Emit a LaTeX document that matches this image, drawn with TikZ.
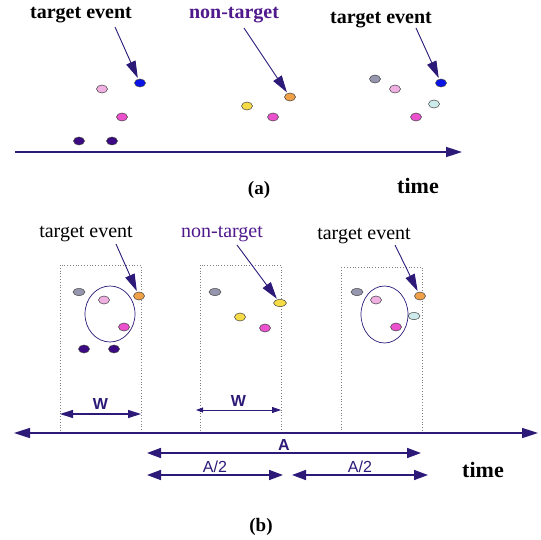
\documentclass[tikz,border=0pt]{standalone}
\usepackage{fontspec}
\setmainfont{Liberation Serif}
\setsansfont{Liberation Sans}
\usetikzlibrary{arrows.meta, positioning, shapes.geometric, calc}

\definecolor{navy}{RGB}{45,25,120}
\definecolor{ntpurple}{RGB}{80,25,140}
\definecolor{dotblue}{RGB}{10,20,230}
\definecolor{dotpink}{RGB}{240,175,225}
\definecolor{dotmag}{RGB}{235,80,205}
\definecolor{dotdark}{RGB}{60,10,130}
\definecolor{dotyel}{RGB}{245,220,70}
\definecolor{dotorg}{RGB}{240,160,70}
\definecolor{dotgrey}{RGB}{150,150,175}
\definecolor{dotcyan}{RGB}{205,235,235}

\tikzset{
  evdot/.style={ellipse, draw=black!75, line width=0.5pt, inner sep=0pt,
                minimum width=11pt, minimum height=8pt},
  pointer/.style={navy, line width=0.9pt,
                  -{Triangle[length=17pt,width=10pt]}, shorten >=1pt},
  timeline/.style={navy, line width=1.6pt},
  winbox/.style={gray, dotted, line width=0.8pt},
  headlbl/.style={font=\fontsize{20}{20}\selectfont\bfseries, inner sep=0pt},
  winlbl/.style={font=\fontsize{20}{20}\selectfont, inner sep=0pt},
  dimlbl/.style={font=\sffamily\fontsize{16}{16}\selectfont\bfseries, inner sep=0pt}
}

\begin{document}
\begin{tikzpicture}[x=1pt, y=-1pt]
  \useasboundingbox (0,0) rectangle (540,540);

  % (a) events on a time line
  \node[headlbl] (tgtA1) at (81,15) {target event};
  \node[headlbl, text=ntpurple] (ntA) at (234,15) {non-target};
  \node[headlbl] (tgtA2) at (381,20) {target event};

  \node[evdot, fill=dotblue] (a1) at (140,83) {};
  \node[evdot, fill=dotpink] (a2) at (102,89) {};
  \node[evdot, fill=dotmag] (a3) at (122,117) {};
  \node[evdot, fill=dotdark] (a4) at (79,141) {};
  \node[evdot, fill=dotdark] (a5) at (112,141) {};

  \node[evdot, fill=dotyel] (a6) at (247,106) {};
  \node[evdot, fill=dotmag] (a7) at (273,117) {};
  \node[evdot, fill=dotorg] (a8) at (290,97) {};

  \node[evdot, fill=dotgrey] (a9) at (375,79) {};
  \node[evdot, fill=dotpink] (a10) at (395,89) {};
  \node[evdot, fill=dotblue] (a11) at (441,83) {};
  \node[evdot, fill=dotcyan] (a12) at (434,104) {};
  \node[evdot, fill=dotmag] (a13) at (416,117) {};

  \coordinate (pA1) at (115,27);
  \coordinate (pA2) at (244,28);
  \coordinate (pA3) at (416,28);
  \draw[pointer] (pA1) -- (a1);
  \draw[pointer] (pA2) -- (a8);
  \draw[pointer] (pA3) -- (a11);

  \coordinate (axA0) at (15,152);
  \coordinate (axA1) at (462,152);
  \draw[timeline, -{Triangle[length=16pt,width=10pt]}] (axA0) -- (axA1);

  \node[font=\fontsize{22}{22}\selectfont\bfseries, inner sep=0pt]
    (timeA) at (418,186) {time};
  \node[font=\fontsize{19}{19}\selectfont\bfseries, inner sep=0pt]
    (capA) at (259,190) {(a)};

  % (b) windows of width W moved along the time line
  \node[winlbl] (tgtB1) at (86,234) {target event};
  \node[winlbl, text=ntpurple] (ntB) at (222,234) {non-target};
  \node[winlbl] (tgtB2) at (364,236) {target event};

  \draw[winbox] (60,265) rectangle (141,433);
  \draw[winbox] (200,265) rectangle (281,433);
  \draw[winbox] (341,267) rectangle (422,433);

  \node[evdot, fill=dotgrey, minimum width=12pt, minimum height=7pt] (b1) at (79,292) {};
  \node[evdot, fill=dotpink] (b2) at (104,300) {};
  \node[evdot, fill=dotorg] (b3) at (139,296) {};
  \node[evdot, fill=dotmag] (b4) at (124,327) {};
  \node[evdot, fill=dotdark] (b5) at (84,349) {};
  \node[evdot, fill=dotdark] (b6) at (114,349) {};
  \draw[navy, line width=0.7pt] (110,314) ellipse [x radius=25, y radius=28];

  \node[evdot, fill=dotgrey, minimum width=12pt, minimum height=7pt] (b7) at (215,292) {};
  \node[evdot, fill=dotyel] (b8) at (240,317) {};
  \node[evdot, fill=dotmag] (b9) at (265,328) {};
  \node[evdot, fill=dotyel, minimum width=13pt, minimum height=7pt] (b10) at (280,303) {};

  \node[evdot, fill=dotgrey, minimum width=12pt, minimum height=7pt] (b11) at (357,292) {};
  \node[evdot, fill=dotpink] (b12) at (376,300) {};
  \node[evdot, fill=dotorg] (b13) at (420,296) {};
  \node[evdot, fill=dotcyan, minimum width=12pt, minimum height=7pt] (b14) at (414,316) {};
  \node[evdot, fill=dotmag] (b15) at (396,327) {};
  \draw[navy, line width=0.7pt] (384.5,314.5) ellipse [x radius=23.5, y radius=28.5];

  \coordinate (pB1) at (116,244);
  \coordinate (pB2) at (237,245);
  \coordinate (pB3) at (395,245);
  \draw[pointer] (pB1) -- (b3);
  \draw[pointer] (pB2) -- (b10);
  \draw[pointer] (pB3) -- (b13);

  % widths and spacing
  \coordinate (w1l) at (60,414);
  \coordinate (w1r) at (141,414);
  \coordinate (w2l) at (196,410);
  \coordinate (w2r) at (281,410);
  \draw[timeline, line width=1.2pt,
        {Triangle[length=13pt,width=8pt]}-{Triangle[length=13pt,width=8pt]}]
    (w1l) -- node[dimlbl, above=4pt] (wlbl1) {W} (w1r);
  \draw[timeline, line width=0.8pt,
        {Triangle[length=7pt,width=5pt]}-{Triangle[length=9pt,width=6pt]}]
    (w2l) -- node[dimlbl, above=3pt] (wlbl2) {W} (w2r);

  \coordinate (axB0) at (14,433);
  \coordinate (axB1) at (538,433);
  \draw[timeline,
        {Triangle[length=16pt,width=10pt]}-{Triangle[length=16pt,width=10pt]}]
    (axB0) -- (axB1);

  \coordinate (Al) at (147,453);
  \coordinate (Ar) at (421,453);
  \coordinate (H1l) at (147,475);
  \coordinate (H1r) at (283,475);
  \coordinate (H2l) at (292,475);
  \coordinate (H2r) at (428,475);
  \draw[timeline,
        {Triangle[length=14pt,width=10pt]}-{Triangle[length=14pt,width=10pt]}]
    (Al) -- node[dimlbl, above=2pt] (albl) {A} (Ar);
  \draw[timeline,
        {Triangle[length=14pt,width=10pt]}-{Triangle[length=14pt,width=10pt]}]
    (H1l) -- node[dimlbl, font=\sffamily\fontsize{16}{16}\selectfont, above=2pt] (hlbl1) {A/2} (H1r);
  \draw[timeline,
        {Triangle[length=14pt,width=10pt]}-{Triangle[length=14pt,width=10pt]}]
    (H2l) -- node[dimlbl, font=\sffamily\fontsize{16}{16}\selectfont, above=2pt] (hlbl2) {A/2} (H2r);

  \node[font=\fontsize{22}{22}\selectfont\bfseries, inner sep=0pt]
    (timeB) at (483,470) {time};
  \node[font=\fontsize{19}{19}\selectfont\bfseries, inner sep=0pt]
    (capB) at (261,527) {(b)};
\end{tikzpicture}
\end{document}
